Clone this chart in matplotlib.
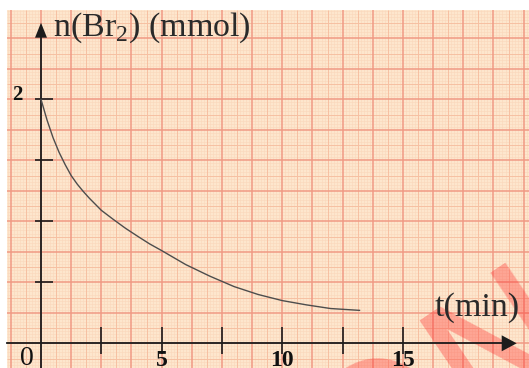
import matplotlib
matplotlib.use("Agg")
import matplotlib.pyplot as plt
from matplotlib.patches import Polygon, Rectangle
import numpy as np

# Amount of bromine remaining over time
t_min = [0, 0.25, 0.5, 0.75, 1, 1.25, 1.5, 1.75, 2, 2.5, 3, 3.5, 4, 4.5, 5,
         6, 7, 8, 9, 10, 11, 12, 13.2]
n_br2 = [2.0, 1.83, 1.685, 1.565, 1.465, 1.375, 1.305, 1.245, 1.19, 1.09, 1.015,
         0.943, 0.878, 0.815, 0.76, 0.645, 0.55, 0.465, 0.40, 0.35, 0.315, 0.285, 0.27]

x_ticks = [2.5, 5, 7.5, 10, 12.5, 15]
x_tick_labels = ["", "5", "", "10", "", "15"]
y_ticks = [0.5, 1.0, 1.5, 2.0]
y_tick_labels = ["", "", "", "2"]

W, H = 529, 368
fig = plt.figure(figsize=(W / 100, H / 100), dpi=100)
ax = fig.add_axes([0, 0, 1, 1])
ax.axis("off")

# pixel scale of the plot: origin position and pixels per unit
ox, oy = 41.0, 343.3
sx, sy = 24.13, 122.0
xmin, xmax = -ox / sx, (W - ox) / sx
ymin, ymax = -(H - oy) / sy, oy / sy
ax.set_xlim(xmin, xmax)
ax.set_ylim(ymin, ymax)

def px_x(p):
    return (p - ox) / sx

def px_y(p):
    return (oy - p) / sy

# graph paper
paper_left, paper_top = px_x(7), px_y(10)
ax.add_patch(Rectangle((paper_left, ymin), xmax - paper_left, paper_top - ymin,
                       facecolor="#fde6cd", edgecolor="none", zorder=0))

step_x, step_y = 0.125, 0.025
styles = {
    "minor": dict(color="#fad7bb", lw=0.4),
    "mid": dict(color="#f6c0a2", lw=0.7),
    "major": dict(color="#f09a84", lw=1.1),
}

def level(k):
    if k % 10 == 0:
        return "major"
    if k % 5 == 0:
        return "mid"
    return "minor"

zorders = {"minor": 1, "mid": 2, "major": 3}
for lev in ["minor", "mid", "major"]:
    xs = [k * step_x for k in range(int(np.ceil(paper_left / step_x)), int(xmax / step_x) + 1)
          if level(k) == lev]
    ys = [k * step_y for k in range(int(np.ceil(ymin / step_y)), int(paper_top / step_y) + 1)
          if level(k) == lev]
    ax.vlines(xs, ymin, paper_top, zorder=zorders[lev], **styles[lev])
    ax.hlines(ys, paper_left, xmax, zorder=zorders[lev], **styles[lev])

# axes with arrow heads
axis_col = "#1c1c1c"
y_tip, y_base = px_y(22.7), px_y(37.7)
x_tip, x_base = px_x(516.7), px_x(501.7)
ax.plot([0, 0], [ymin, y_base], color=axis_col, lw=1.3, zorder=5)
ax.plot([paper_left, x_base], [0, 0], color=axis_col, lw=1.3, zorder=5)
ax.add_patch(Polygon([[0, y_tip], [-6 / sx, y_base], [6 / sx, y_base]],
                     closed=True, facecolor=axis_col, edgecolor="none", zorder=5))
ax.add_patch(Polygon([[x_tip, 0], [x_base, 8 / sy], [x_base, -8 / sy]],
                     closed=True, facecolor=axis_col, edgecolor="none", zorder=5))

# tick marks
ax.vlines(x_ticks, px_y(354), px_y(327), color=axis_col, lw=1.2, zorder=5)
ax.hlines(y_ticks, px_x(35), px_x(53), color=axis_col, lw=1.2, zorder=5)

serif = "Liberation Serif"
plt.rcParams["mathtext.fontset"] = "custom"
plt.rcParams["mathtext.rm"] = serif

for xt, lab in zip(x_ticks, x_tick_labels):
    if lab:
        ax.text(xt, px_y(366), lab, ha="center", va="baseline", fontsize=17,
                fontweight="bold", family=serif, color="#111111", zorder=6)
for yt, lab in zip(y_ticks, y_tick_labels):
    if lab:
        ax.text(px_x(23), yt + 4 / sy, lab, ha="right", va="center", fontsize=15,
                fontweight="bold", family=serif, color="#111111", zorder=6)
ax.text(px_x(26.5), px_y(365), "0", ha="center", va="baseline", fontsize=20,
        family=serif, color="#111111", zorder=6)

# axis titles
ax.text(px_x(53), px_y(35.7), r"n(Br$_2$) (mmol)", ha="left", va="baseline",
        fontsize=24.5, family=serif, color="#2a2a2a", zorder=6)
ax.text(px_x(435), px_y(315.7), "t(min)", ha="left", va="baseline",
        fontsize=24.5, family=serif, color="#2a2a2a", zorder=6)

# curve
ax.plot(t_min, n_br2, color="#4d4d4d", lw=1.0, zorder=6)

# watermark
ax.text(px_x(358), px_y(521), "ON", rotation=34, rotation_mode="anchor",
        ha="left", va="baseline", fontsize=135, family="DejaVu Sans",
        color="#ff2a2a", alpha=0.35, zorder=4)

fig.savefig("out.png", dpi=100)
